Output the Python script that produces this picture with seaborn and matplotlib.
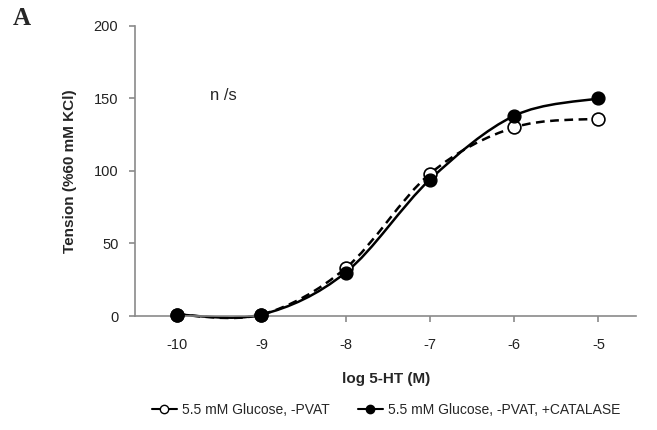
import numpy as np
import pandas as pd
import matplotlib
matplotlib.use("Agg")
import matplotlib.pyplot as plt
from matplotlib.path import Path
from matplotlib.patches import PathPatch
from matplotlib.lines import Line2D
import seaborn as sns

# data
log_5ht = [-10, -9, -8, -7, -6, -5]
tension_ctrl = [1, 1, 33, 98, 130, 136]        # 5.5 mM Glucose, -PVAT
tension_catalase = [1, 1, 30, 94, 138, 150]    # 5.5 mM Glucose, -PVAT, +CATALASE
label_ctrl = "5.5 mM Glucose, -PVAT"
label_catalase = "5.5 mM Glucose, -PVAT, +CATALASE"

sns.set_style("white")
plt.rcParams['font.family'] = ['Liberation Sans', 'DejaVu Sans']
plt.rcParams['axes.unicode_minus'] = False


def smooth_path(x, y):
    # Excel-like smoothed line: cubic bezier through the points (Catmull-Rom tangents)
    x = np.asarray(x, float)
    y = np.asarray(y, float)
    verts = [(x[0], y[0])]
    codes = [Path.MOVETO]
    n = len(x)
    for i in range(n - 1):
        x0, y0 = (x[i - 1], y[i - 1]) if i > 0 else (x[i], y[i])
        x3, y3 = (x[i + 2], y[i + 2]) if i + 2 < n else (x[i + 1], y[i + 1])
        c1 = (x[i] + (x[i + 1] - x0) / 6, y[i] + (y[i + 1] - y0) / 6)
        c2 = (x[i + 1] - (x3 - x[i]) / 6, y[i + 1] - (y3 - y[i]) / 6)
        verts += [c1, c2, (x[i + 1], y[i + 1])]
        codes += [Path.CURVE4] * 3
    return Path(verts, codes)


fig = plt.figure(figsize=(6.57, 4.30), dpi=100)
ax = fig.add_axes([0.2055, 0.265, 0.763, 0.675])

ax.add_patch(PathPatch(smooth_path(log_5ht, tension_ctrl), fill=False, clip_on=False,
                       edgecolor="black", lw=1.8, linestyle=(0, (3.5, 2.2))))
ax.add_patch(PathPatch(smooth_path(log_5ht, tension_catalase), fill=False, clip_on=False,
                       edgecolor="black", lw=1.8))

df = pd.DataFrame({"x": log_5ht * 2,
                   "y": tension_ctrl + tension_catalase,
                   "group": [label_ctrl] * 6 + [label_catalase] * 6})
sns.scatterplot(data=df[df.group == label_ctrl], x="x", y="y", ax=ax, clip_on=False,
                color="white", edgecolor="black", linewidth=1.2, s=85, zorder=3)
sns.scatterplot(data=df[df.group == label_catalase], x="x", y="y", ax=ax, clip_on=False,
                color="black", edgecolor="black", linewidth=1.0, s=85, zorder=4)

ax.set_xlim(-10.5, -4.55)
ax.set_ylim(0, 200)
ax.set_xticks(log_5ht)
ax.set_yticks([0, 50, 100, 150, 200])
for s in ["top", "right"]:
    ax.spines[s].set_visible(False)
for s in ["left", "bottom"]:
    ax.spines[s].set_color("#8a8a8a")
    ax.spines[s].set_linewidth(1.2)
ax.tick_params(axis="both", direction="out", length=4, width=1.2, color="#8a8a8a",
               labelsize=10.5, labelcolor="#222222", bottom=True, left=True)
ax.tick_params(axis="x", pad=12)
ax.tick_params(axis="y", pad=8)
ax.set_xlabel("log 5-HT (M)", fontsize=11, fontweight="bold", labelpad=14)
ax.set_ylabel("Tension (%60 mM KCl)", fontsize=11, fontweight="bold", labelpad=12)

ax.text(-9.45, 152, "n /s", fontsize=12, ha="center", va="center")
fig.text(0.02, 0.957, "A", fontsize=18, fontweight="bold",
         family=["Liberation Serif", "DejaVu Serif"], ha="left", va="center")

handles = [
    Line2D([0], [0], color="black", lw=1.5, marker="o", markersize=6,
           markerfacecolor="white", markeredgecolor="black"),
    Line2D([0], [0], color="black", lw=1.5, marker="o", markersize=6,
           markerfacecolor="black", markeredgecolor="black"),
]
fig.legend(handles, [label_ctrl, label_catalase], loc="center",
           bbox_to_anchor=(0.588, 0.047), ncol=2, frameon=False, fontsize=10,
           handlelength=1.8, handletextpad=0.4, columnspacing=2.0)

fig.savefig("out.png", dpi=100)
